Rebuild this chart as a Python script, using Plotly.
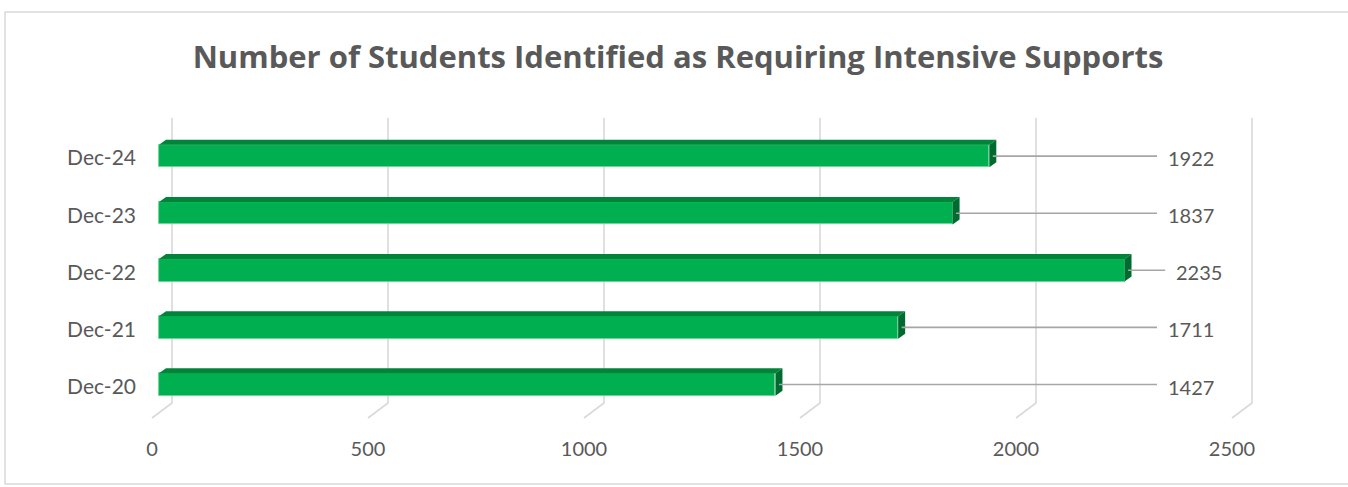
import plotly.graph_objects as go

# ---- data ----
categories = ["Dec-20", "Dec-21", "Dec-22", "Dec-23", "Dec-24"]
values = [1427, 1711, 2235, 1837, 1922]
x_ticks = [0, 500, 1000, 1500, 2000, 2500]
title_text = "Number of Students Identified as Requiring Intensive Supports"

# ---- geometry (pixel calibration of the 3D look) ----
W, H = 1348, 487
PX_PER_UNIT = 216 / 500.0      # horizontal scale
X0_PX = 159                     # pixel of value 0 on bar front face
ROW_PX = 57.1                   # pixels between categories
Y0_PX = 384.5                   # pixel centre of first category
PLOT_L, PLOT_R, PLOT_T, PLOT_B = 145, 1330, 100, 430

def vx(px):
    return (px - X0_PX) / PX_PER_UNIT

def vy(py):
    return (Y0_PX - py) / ROW_PX

BAR_W = 22.5 / ROW_PX
DX = 7 / PX_PER_UNIT           # depth offset in x (units)
DY = 5 / ROW_PX                # depth offset in y (units)
GRID_BACK = 13 / PX_PER_UNIT
GRID_FRONT = -7 / PX_PER_UNIT
LABEL_DROP = 2 / ROW_PX

FONT = "Lato"
TXT = "#595959"
GREEN = "#00B050"
GREEN_TOP = "#00843A"
GREEN_SIDE = "#006B2E"

ypos = list(range(len(categories)))

fig = go.Figure()
fig.add_trace(go.Bar(
    y=ypos, x=values, orientation="h", width=BAR_W,
    marker=dict(color=GREEN, line=dict(color="#6BD197", width=0.8)),
    hoverinfo="x+text", text=categories, textposition="none",
    showlegend=False,
))

shapes = []
# gridlines (back wall + floor diagonal)
ytop, yfloor, yfront = vy(118), vy(403), vy(418)
for t in x_ticks:
    shapes.append(dict(
        type="path", xref="x", yref="y", layer="below",
        path=f"M {t+GRID_BACK},{ytop} L {t+GRID_BACK},{yfloor} L {t+GRID_FRONT},{yfront}",
        line=dict(color="#D9D9D9", width=1.6),
    ))

annotations = []
for i, v in enumerate(values):
    top = i + BAR_W / 2
    bot = i - BAR_W / 2
    shapes.append(dict(
        type="path", xref="x", yref="y", layer="above",
        path=f"M 0,{top} L {v},{top} L {v+DX},{top+DY} L {DX},{top+DY} Z",
        fillcolor=GREEN_TOP, line=dict(width=0),
    ))
    shapes.append(dict(
        type="path", xref="x", yref="y", layer="above",
        path=f"M {v},{top} L {v+DX},{top+DY} L {v+DX},{bot+DY} L {v},{bot} Z",
        fillcolor=GREEN_SIDE, line=dict(width=0),
    ))
    lx = max(vx(1166), v + 115)
    shapes.append(dict(
        type="line", xref="x", yref="y", layer="above",
        x0=v + DX / 2, x1=lx - 9 / PX_PER_UNIT, y0=i, y1=i,
        line=dict(color="#A6A6A6", width=1.6),
    ))
    annotations.append(dict(
        x=lx, y=i, xref="x", yref="y", text=str(v), showarrow=False,
        xanchor="left", yanchor="middle", yshift=-2,
        font=dict(family=FONT, size=20, color=TXT),
    ))

# chart border
shapes.append(dict(
    type="rect", xref="paper", yref="paper",
    x0=5 / W, x1=1.01, y0=1 - 484 / H, y1=1 - 12 / H,
    line=dict(color="#D9D9D9", width=1.5), fillcolor="rgba(0,0,0,0)", layer="below",
))

fig.update_layout(
    width=W, height=H,
    margin=dict(l=0, r=0, t=0, b=0),
    paper_bgcolor="white", plot_bgcolor="white",
    title=dict(
        text=f"<b>{title_text}</b>",
        x=678 / W, xanchor="center", y=1 - 57 / H, yanchor="middle",
        font=dict(family="Open Sans", size=31, color=TXT),
    ),
    xaxis=dict(
        domain=[PLOT_L / W, PLOT_R / W],
        range=[vx(PLOT_L), vx(PLOT_R)],
        showgrid=False, zeroline=False, showline=False,
        tickmode="array",
        tickvals=[t + GRID_FRONT for t in x_ticks],
        ticktext=[str(t) for t in x_ticks],
        ticks="", ticklabelstandoff=5,
        tickfont=dict(family=FONT, size=20, color=TXT),
    ),
    yaxis=dict(
        domain=[1 - PLOT_B / H, 1 - PLOT_T / H],
        range=[vy(PLOT_B), vy(PLOT_T)],
        showgrid=False, zeroline=False, showline=False,
        tickmode="array", tickvals=[p - LABEL_DROP for p in ypos], ticktext=categories,
        ticks="", ticklabelstandoff=8,
        tickfont=dict(family=FONT, size=21, color=TXT),
    ),
    shapes=shapes,
    annotations=annotations,
    bargap=0,
)

fig.write_html("out.html")
